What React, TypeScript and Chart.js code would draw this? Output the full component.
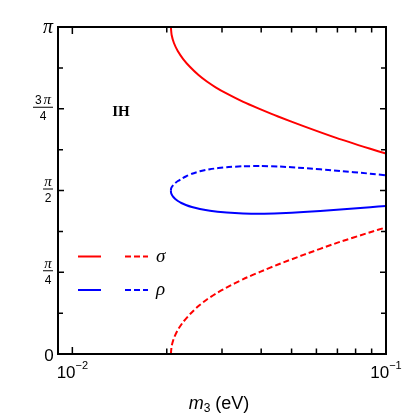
import React, { useEffect, useRef } from 'react';
import { Chart, registerables } from 'chart.js';
Chart.register(...registerables);

// axes
const xMin = 0.009;
const xMax = 0.1;
const yMin = 0; // units of π
const yMax = 1;
const xMajorTicks = [0.01, 0.1];
const xMinorTicks = [0.02, 0.03, 0.04, 0.05, 0.06, 0.07, 0.08, 0.09];
const xTickBase = ['10', '10'];
const xTickExp = ['−2', '−1'];
const yTicks = [0, 0.125, 0.25, 0.375, 0.5, 0.625, 0.75, 0.875, 1];
const yLabelValues = [0, 0.25, 0.5, 0.75, 1];
const yLabelNums = ['0', 'π', 'π', '3 π', 'π'];
const yLabelDens = ['', '4', '2', '4', ''];

// series (y in units of π)
const sigmaM3 = [0.02061, 0.02073, 0.02108, 0.02168, 0.02256, 0.02374, 0.02525, 0.02692, 0.02863, 0.03089, 0.03508, 0.03967, 0.04528, 0.05455, 0.06976, 0.08909, 0.1];
const sigmaSolid = [1.0, 0.9755, 0.9511, 0.9266, 0.9021, 0.8777, 0.8532, 0.8324, 0.8156, 0.7976, 0.7709, 0.7489, 0.7263, 0.6969, 0.6602, 0.6275, 0.6128];
const sigmaDashed = [0.0, 0.0245, 0.0489, 0.0734, 0.0979, 0.1223, 0.1468, 0.1676, 0.1844, 0.2024, 0.2291, 0.2511, 0.2737, 0.3031, 0.3398, 0.3725, 0.3872];
const rhoM3 = [0.02061, 0.02065, 0.02078, 0.02099, 0.02129, 0.0217, 0.02226, 0.02301, 0.02405, 0.02551, 0.02746, 0.03105, 0.03501, 0.03967, 0.04596, 0.05455, 0.06976, 0.08909, 0.1];
const rhoSolid = [0.5, 0.4924, 0.4862, 0.4801, 0.474, 0.4679, 0.4618, 0.4557, 0.4495, 0.4434, 0.4379, 0.4327, 0.4297, 0.4287, 0.4303, 0.4339, 0.441, 0.4486, 0.4529];
const rhoDashed = [0.5, 0.5061, 0.5114, 0.5171, 0.5229, 0.5291, 0.5352, 0.5428, 0.5511, 0.5587, 0.5651, 0.5713, 0.574, 0.5749, 0.5731, 0.5688, 0.5606, 0.5514, 0.5465];

const legendLabels = ['σ', 'ρ'];
const annotation = 'IH';

const RED = '#ff0000';
const BLUE = '#0000ff';
const SANS = "'Liberation Sans', Arial, sans-serif";
const SERIF = "'Liberation Serif', 'Times New Roman', serif";

const toPts = (xs: number[], ys: number[]) => xs.map((x, i) => ({ x, y: ys[i] }));

function drawMixed(ctx: CanvasRenderingContext2D, text: string, cx: number, y: number, digitSize: number, piSize: number) {
  const parts = text.split('').map((ch) => ({
    ch,
    font: ch === 'π' ? `italic ${piSize}px ${SERIF}` : `${digitSize}px ${SANS}`,
  }));
  let total = 0;
  const widths = parts.map((p) => {
    ctx.font = p.font;
    const w = p.ch === ' ' ? 2 : ctx.measureText(p.ch).width;
    total += w;
    return w;
  });
  let x = cx - total / 2;
  parts.forEach((p, i) => {
    if (p.ch !== ' ') {
      ctx.font = p.font;
      ctx.textAlign = 'left';
      ctx.textBaseline = 'alphabetic';
      ctx.fillText(p.ch, x, y);
    }
    x += widths[i];
  });
  return total;
}

const decorPlugin = {
  id: 'decor',
  afterDatasetsDraw(chart: any) {
    const { ctx, chartArea: a, scales } = chart;
    const xs = scales.x;
    const ys = scales.y;
    ctx.save();
    ctx.fillStyle = '#000';
    ctx.strokeStyle = '#000';
    // ticks
    ctx.lineWidth = 1.5;
    const drawX = (v: number, len: number) => {
      const px = xs.getPixelForValue(v);
      ctx.beginPath();
      ctx.moveTo(px, a.bottom);
      ctx.lineTo(px, a.bottom - len);
      ctx.moveTo(px, a.top);
      ctx.lineTo(px, a.top + len);
      ctx.stroke();
    };
    xMajorTicks.forEach((v) => drawX(v, 7));
    xMinorTicks.forEach((v) => drawX(v, 5.5));
    yTicks.forEach((v) => {
      const py = ys.getPixelForValue(v);
      const len = yLabelValues.includes(v) ? 6 : 5;
      ctx.beginPath();
      ctx.moveTo(a.left, py);
      ctx.lineTo(a.left + len, py);
      ctx.moveTo(a.right, py);
      ctx.lineTo(a.right - len, py);
      ctx.stroke();
    });
    // frame
    ctx.lineWidth = 2;
    ctx.strokeRect(a.left, a.top, a.right - a.left, a.bottom - a.top);

    // x tick labels
    xMajorTicks.forEach((v, i) => {
      const px = xs.getPixelForValue(v);
      ctx.font = `17px ${SANS}`;
      const wb = ctx.measureText(xTickBase[i]).width;
      ctx.font = `11px ${SANS}`;
      const we = ctx.measureText(xTickExp[i]).width;
      const left = px - (wb + we) / 2;
      ctx.textAlign = 'left';
      ctx.textBaseline = 'alphabetic';
      ctx.font = `17px ${SANS}`;
      ctx.fillText(xTickBase[i], left, a.bottom + 24);
      ctx.font = `11px ${SANS}`;
      ctx.fillText(xTickExp[i], left + wb, a.bottom + 15);
    });

    // y tick labels
    yLabelValues.forEach((v, i) => {
      const py = ys.getPixelForValue(v);
      const num = yLabelNums[i];
      const den = yLabelDens[i];
      if (!den) {
        if (num === 'π') {
          ctx.font = `italic 20px ${SERIF}`;
          ctx.textAlign = 'center';
          ctx.textBaseline = 'alphabetic';
          ctx.fillText(num, 48, py + 6);
        } else {
          ctx.font = `17px ${SANS}`;
          ctx.textAlign = 'center';
          ctx.textBaseline = 'alphabetic';
          ctx.fillText(num, 49, py + 7);
        }
      } else {
        const right = 53;
        const w = num.length > 1 ? 20 : 10;
        const cx = right - w / 2;
        const barY = py - 1.5;
        drawMixed(ctx, num, cx, barY - 3, 12, 15);
        ctx.lineWidth = 1;
        ctx.beginPath();
        ctx.moveTo(cx - w / 2, barY);
        ctx.lineTo(cx + w / 2, barY);
        ctx.stroke();
        ctx.font = `12px ${SANS}`;
        ctx.textAlign = 'center';
        ctx.textBaseline = 'alphabetic';
        ctx.fillText(den, cx, barY + 13);
      }
    });

    // axis title
    ctx.textBaseline = 'alphabetic';
    ctx.textAlign = 'left';
    const titleY = 409;
    const big = 18;
    const sub = 12;
    ctx.font = `italic ${big}px ${SANS}`;
    const wm = ctx.measureText('m').width;
    ctx.font = `${sub}px ${SANS}`;
    const w3 = ctx.measureText('3').width;
    ctx.font = `${big}px ${SANS}`;
    const wr = ctx.measureText(' (eV)').width;
    let tx = 219 - (wm + w3 + wr) / 2;
    ctx.font = `italic ${big}px ${SANS}`;
    ctx.fillText('m', tx, titleY);
    tx += wm;
    ctx.font = `${sub}px ${SANS}`;
    ctx.fillText('3', tx, titleY + 3);
    tx += w3;
    ctx.font = `${big}px ${SANS}`;
    ctx.fillText(' (eV)', tx, titleY);

    // annotation
    ctx.font = `bold 15px ${SERIF}`;
    ctx.textAlign = 'center';
    ctx.fillText(annotation, 121, 116);

    // legend
    const rows = [
      { color: RED, y: 256.5, label: legendLabels[0] },
      { color: BLUE, y: 290, label: legendLabels[1] },
    ];
    rows.forEach((r) => {
      ctx.strokeStyle = r.color;
      ctx.lineWidth = 2;
      ctx.setLineDash([]);
      ctx.beginPath();
      ctx.moveTo(78, r.y);
      ctx.lineTo(101, r.y);
      ctx.stroke();
      ctx.setLineDash([6, 3]);
      ctx.beginPath();
      ctx.moveTo(125, r.y);
      ctx.lineTo(148, r.y);
      ctx.stroke();
      ctx.setLineDash([]);
      ctx.fillStyle = '#000';
      ctx.font = `italic 19px ${SERIF}`;
      ctx.textAlign = 'left';
      ctx.fillText(r.label, 156, r.y + 5);
    });
    ctx.restore();
  },
};

export default function App() {
  const ref = useRef<HTMLCanvasElement>(null);
  useEffect(() => {
    if (!ref.current) return;
    const common = { showLine: true, pointRadius: 0, borderWidth: 2, tension: 0.2, fill: false };
    const chart = new Chart(ref.current, {
      type: 'scatter',
      data: {
        datasets: [
          { ...common, label: 'σ', data: toPts(sigmaM3, sigmaSolid), borderColor: RED },
          { ...common, label: 'σ dashed', data: toPts(sigmaM3, sigmaDashed), borderColor: RED, borderDash: [6, 3] },
          { ...common, label: 'ρ', data: toPts(rhoM3, rhoSolid), borderColor: BLUE },
          { ...common, label: 'ρ dashed', data: toPts(rhoM3, rhoDashed), borderColor: BLUE, borderDash: [6, 3] },
        ],
      },
      options: {
        animation: false,
        responsive: false,
        devicePixelRatio: 1,
        layout: { padding: { left: 58, top: 27, right: 19, bottom: 59 } },
        plugins: { legend: { display: false }, tooltip: { enabled: false } },
        scales: {
          x: { type: 'logarithmic', min: xMin, max: xMax, display: false },
          y: { type: 'linear', min: yMin, max: yMax, display: false },
        },
      },
      plugins: [decorPlugin],
    });
    return () => chart.destroy();
  }, []);
  return (
    <div style={{ position: 'fixed', left: 0, top: 0, width: 405, height: 413, background: '#fff' }}>
      <canvas ref={ref} width={405} height={413} />
    </div>
  );
}
